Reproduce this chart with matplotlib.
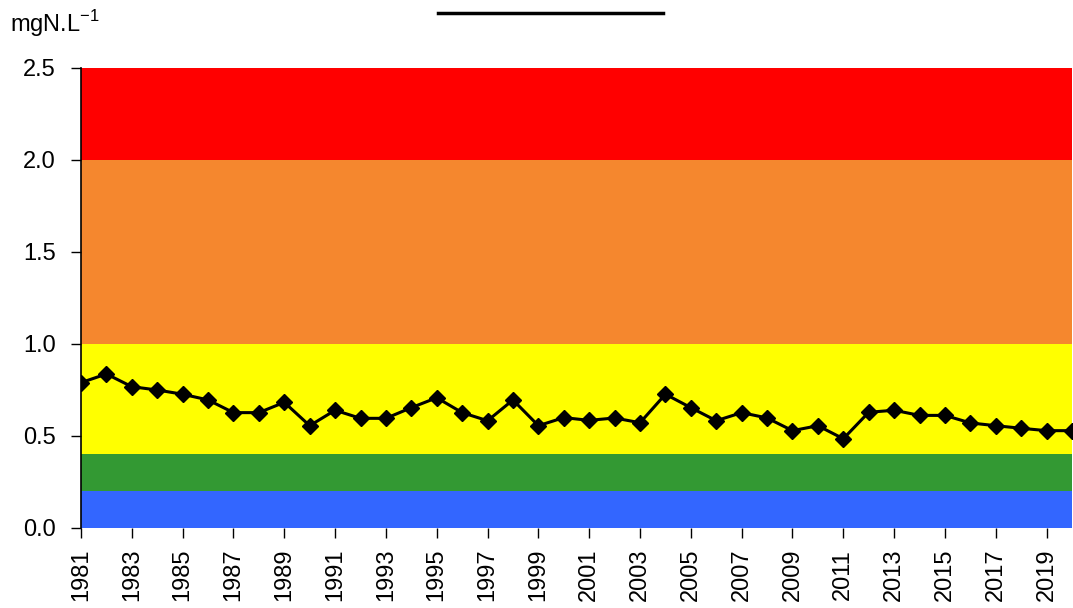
import matplotlib.pyplot as plt
from matplotlib.lines import Line2D

years = list(range(1981, 2021))
values = [0.79, 0.837, 0.768, 0.75, 0.727, 0.696, 0.627, 0.627, 0.683, 0.556,
          0.64, 0.596, 0.596, 0.654, 0.708, 0.627, 0.583, 0.696, 0.556, 0.60,
          0.585, 0.598, 0.572, 0.727, 0.654, 0.583, 0.627, 0.598, 0.529, 0.556,
          0.485, 0.629, 0.64, 0.612, 0.612, 0.571, 0.556, 0.542, 0.529, 0.529]

band_edges = [0.0, 0.2, 0.4, 1.0, 2.0, 2.5]
band_colors = ['#3366FF', '#339933', '#FFFF00', '#F5872E', '#FF0000']

plt.rcParams['font.family'] = ['Liberation Sans', 'DejaVu Sans']

fig = plt.figure(figsize=(10.73, 6.08), dpi=100)
ax = fig.add_axes([81/1073, 80/608, 991/1073, 460/608])

for lo, hi, c in zip(band_edges[:-1], band_edges[1:], band_colors):
    ax.axhspan(lo, hi, color=c, lw=0, zorder=0)

ax.plot(years, values, color='black', lw=2.2, marker='D', ms=8.5, zorder=3, clip_on=True)

ax.set_xlim(1981, 2020)
ax.set_ylim(0, 2.5)
ax.set_xticks(years[::2])
ax.set_xticklabels([str(y) for y in years[::2]], rotation=90, fontsize=17)
ax.set_yticks([0, 0.5, 1.0, 1.5, 2.0, 2.5])
ax.set_yticklabels(['0.0', '0.5', '1.0', '1.5', '2.0', '2.5'], fontsize=17)
ax.tick_params(direction='out', length=7, width=1)
ax.tick_params(axis='x', pad=8)
ax.tick_params(axis='y', pad=11)
for s in ['top', 'right']:
    ax.spines[s].set_visible(False)
ax.spines['bottom'].set_visible(False)
ax.spines['left'].set_linewidth(1.2)

fig.text(10/1073, 1 - 24/608, 'mgN.L$^{\\mathregular{-1}}$', fontsize=17, va='center', ha='left')
fig.add_artist(Line2D([438/1073, 663/1073], [1 - 13/608, 1 - 13/608], color='black', lw=2.5))

fig.savefig('out.png', dpi=100)
